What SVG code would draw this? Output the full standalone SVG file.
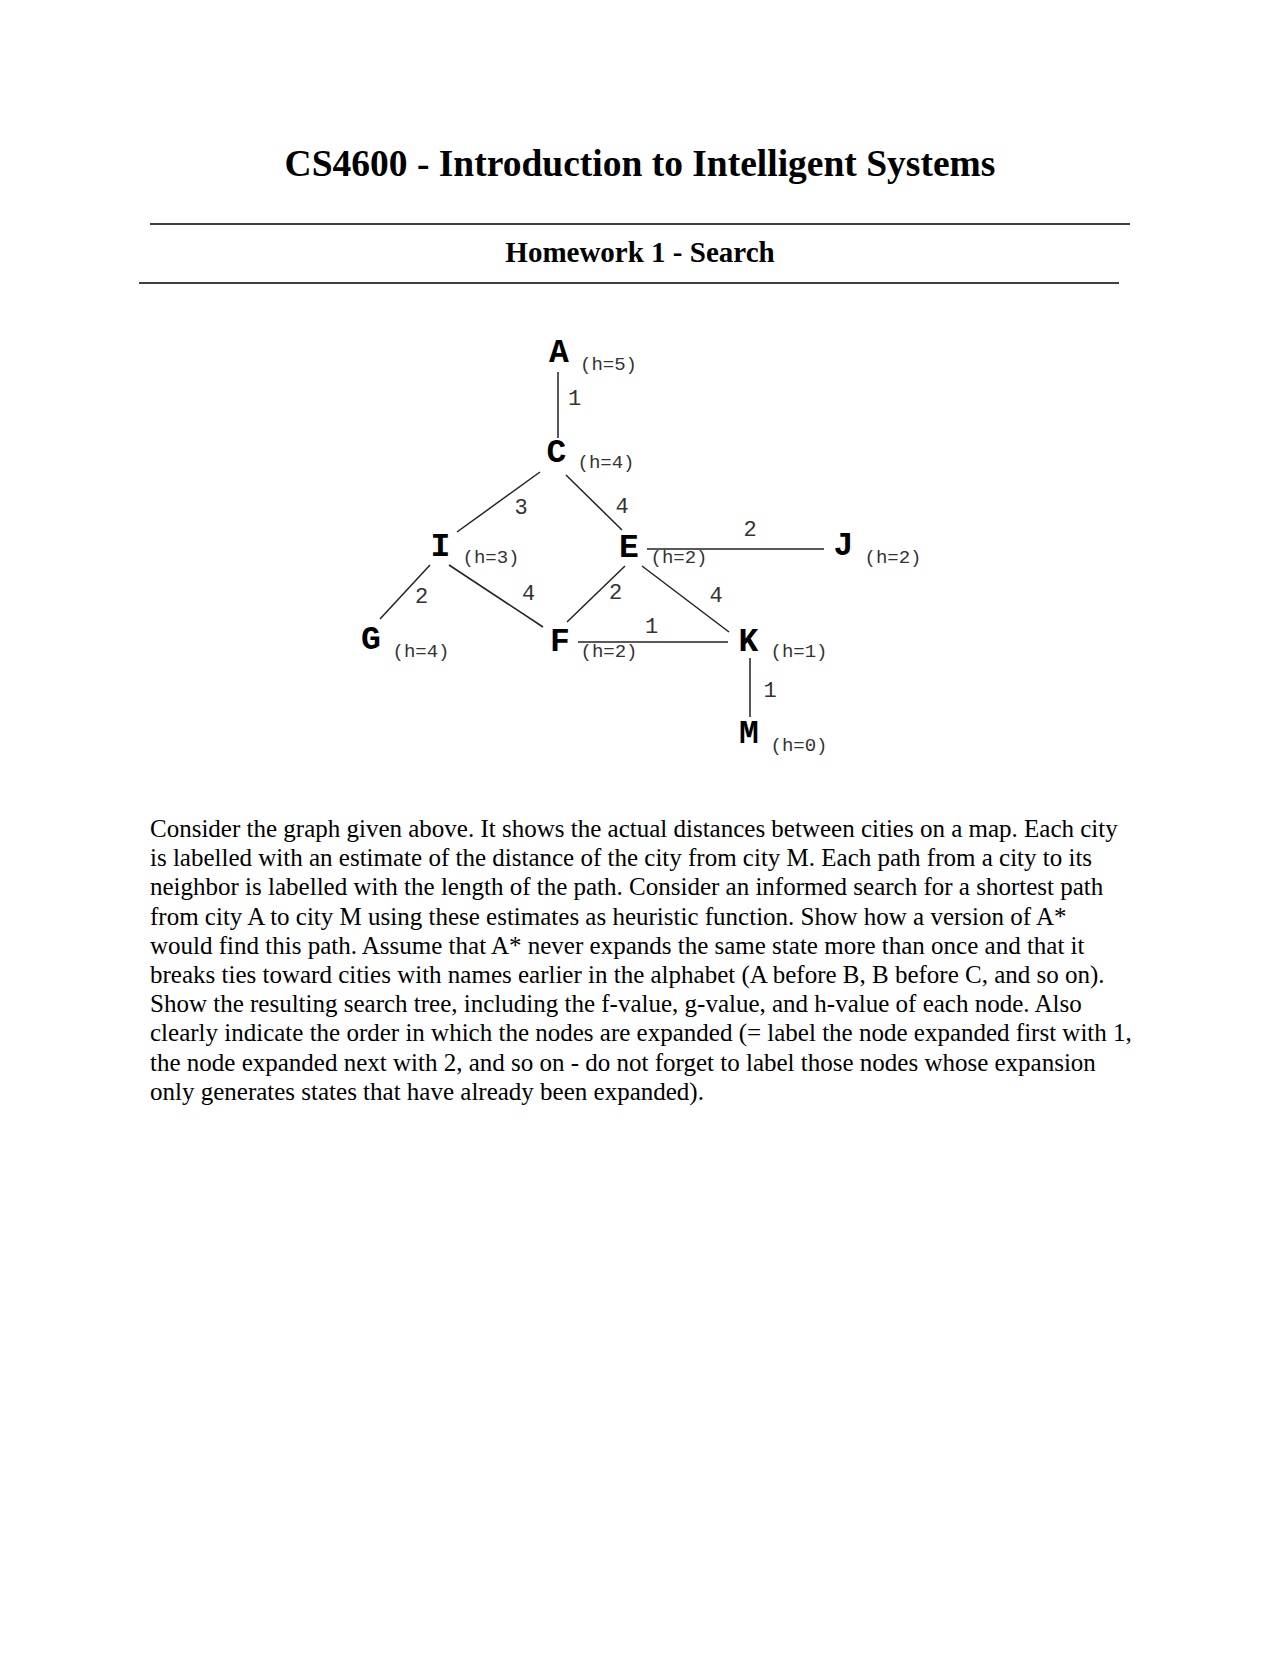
<svg xmlns="http://www.w3.org/2000/svg" width="1280" height="1656" viewBox="0 0 1280 1656">
<style>
.title{font-family:"Liberation Serif",serif;font-weight:bold;fill:#000}
.node{font-family:"Liberation Mono",monospace;font-weight:bold;font-size:33px;fill:#000;text-anchor:middle}
.h{font-family:"Liberation Mono",monospace;font-size:19px;fill:#333;text-anchor:middle}
.w{font-family:"Liberation Mono",monospace;font-size:22px;fill:#333;text-anchor:middle}
.body{font-family:"Liberation Serif",serif;font-size:25px;fill:#000}
.edge{stroke:#222;stroke-width:1.5;fill:none}
.rule{stroke:#000;stroke-width:1.6}
</style>
<rect width="1280" height="1656" fill="#fff"/>
<text class="title" x="640" y="176" font-size="37.5" text-anchor="middle">CS4600 - Introduction to Intelligent Systems</text>
<line class="rule" x1="150" y1="224" x2="1130" y2="224"/>
<text class="title" x="640" y="262" font-size="29" text-anchor="middle">Homework 1 - Search</text>
<line class="rule" x1="139" y1="283" x2="1119" y2="283"/>
<g id="connectors">
<line class="edge" x1="558" y1="372" x2="558" y2="438"/>
<line class="edge" x1="540" y1="472" x2="457" y2="532"/>
<line class="edge" x1="566" y1="475" x2="622" y2="530"/>
<line class="edge" x1="647" y1="549" x2="824" y2="549"/>
<line class="edge" x1="430" y1="565" x2="380" y2="619"/>
<line class="edge" x1="449" y1="565" x2="543" y2="627"/>
<line class="edge" x1="625" y1="566" x2="567" y2="622"/>
<line class="edge" x1="642" y1="566" x2="729" y2="632"/>
<line class="edge" x1="578" y1="642" x2="728" y2="642"/>
<line class="edge" x1="750" y1="658" x2="750" y2="717"/>
<text class="w" x="574.5" y="405">1</text>
<text class="w" x="521" y="514">3</text>
<text class="w" x="622" y="513">4</text>
<text class="w" x="750" y="536">2</text>
<text class="w" x="421.5" y="603">2</text>
<text class="w" x="528.5" y="600">4</text>
<text class="w" x="615.5" y="599">2</text>
<text class="w" x="716" y="602">4</text>
<text class="w" x="651.5" y="633">1</text>
<text class="w" x="770" y="697">1</text>
</g>
<g id="node-A"><text class="node" x="559" y="362">A</text><text class="h" x="608.5" y="370">(h=5)</text></g>
<g id="node-C"><text class="node" x="556.5" y="462">C</text><text class="h" x="606" y="468">(h=4)</text></g>
<g id="node-I"><text class="node" x="440.5" y="556">I</text><text class="h" x="491" y="563">(h=3)</text></g>
<g id="node-E"><text class="node" x="629" y="557">E</text><text class="h" x="679" y="563">(h=2)</text></g>
<g id="node-J"><text class="node" x="843.5" y="555">J</text><text class="h" x="893" y="563">(h=2)</text></g>
<g id="node-G"><text class="node" x="371" y="649">G</text><text class="h" x="421" y="657">(h=4)</text></g>
<g id="node-F"><text class="node" x="560" y="651">F</text><text class="h" x="609" y="657">(h=2)</text></g>
<g id="node-K"><text class="node" x="748.5" y="651">K</text><text class="h" x="799" y="657">(h=1)</text></g>
<g id="node-M"><text class="node" x="749" y="743">M</text><text class="h" x="799" y="751">(h=0)</text></g>
<g id="text">
<text class="body" x="150" y="837">Consider the graph given above. It shows the actual distances between cities on a map. Each city</text>
<text class="body" x="150" y="866.2">is labelled with an estimate of the distance of the city from city M. Each path from a city to its</text>
<text class="body" x="150" y="895.4">neighbor is labelled with the length of the path. Consider an informed search for a shortest path</text>
<text class="body" x="150" y="924.6">from city A to city M using these estimates as heuristic function. Show how a version of A*</text>
<text class="body" x="150" y="953.8">would find this path. Assume that A* never expands the same state more than once and that it</text>
<text class="body" x="150" y="983">breaks ties toward cities with names earlier in the alphabet (A before B, B before C, and so on).</text>
<text class="body" x="150" y="1012.2">Show the resulting search tree, including the f-value, g-value, and h-value of each node. Also</text>
<text class="body" x="150" y="1041.4">clearly indicate the order in which the nodes are expanded (= label the node expanded first with 1,</text>
<text class="body" x="150" y="1070.6">the node expanded next with 2, and so on - do not forget to label those nodes whose expansion</text>
<text class="body" x="150" y="1099.8">only generates states that have already been expanded).</text>
</g>
</svg>
